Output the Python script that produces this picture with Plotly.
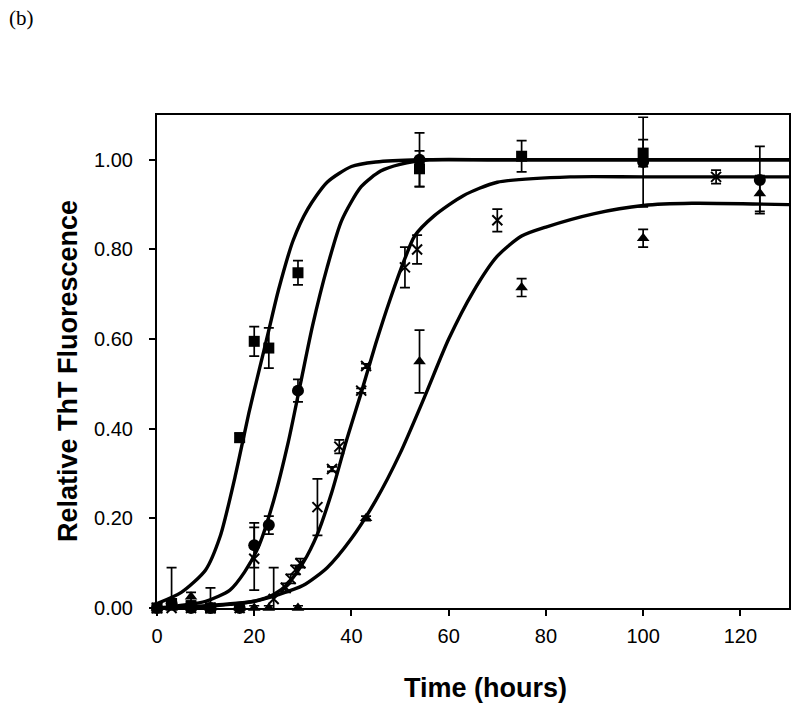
import plotly.graph_objects as go

t_sq = [0, 3, 7, 11, 17, 20, 23, 29, 54, 75, 100]
v_sq = [0.0, 0.01, 0.005, 0.0, 0.38, 0.595, 0.58, 0.748, 0.98, 1.008, 1.015]
e_sq = [0.005, 0.08, 0.01, 0.045, 0.01, 0.033, 0.045, 0.027, 0.04, 0.035, 0.03]

t_ci = [0, 3, 7, 11, 17, 20, 23, 29, 54, 100, 124]
v_ci = [0.0, 0.01, 0.0, 0.0, 0.0, 0.14, 0.185, 0.485, 1.0, 0.995, 0.955]
e_ci = [0.005, 0.01, 0.01, 0.01, 0.005, 0.05, 0.02, 0.025, 0.06, 0.10, 0.075]

t_x = [0, 3, 7, 11, 17, 20, 24, 26.5, 27.5, 28.5, 29.5, 33, 36, 37.5, 42, 43, 51, 53.5, 70, 115]
v_x = [0.0, 0.0, 0.0, 0.0, 0.0, 0.11, 0.02, 0.045, 0.065, 0.085, 0.10, 0.225, 0.31, 0.36,
       0.485, 0.54, 0.76, 0.80, 0.865, 0.962]
e_x = [0.005, 0.005, 0.005, 0.005, 0.005, 0.07, 0.07, 0.01, 0.01, 0.01, 0.01, 0.063, 0.005,
       0.015, 0.005, 0.005, 0.045, 0.032, 0.025, 0.015]

t_tr = [0, 3, 7, 11, 17, 20, 23, 29, 43, 54, 75, 100, 124]
v_tr = [0.0, 0.0, 0.025, 0.0, 0.0, 0.0, 0.0, 0.0, 0.20, 0.55, 0.715, 0.825, 0.925]
e_tr = [0.005, 0.005, 0.01, 0.005, 0.005, 0.005, 0.005, 0.005, 0.005, 0.07, 0.02, 0.02, 0.04]

# ---- fitted curves ----
fa_t = [0, 5, 10, 13, 16, 19, 21, 23, 25, 28, 31, 35, 40, 45, 54, 70, 130]
fa_v = [0.01, 0.035, 0.085, 0.16, 0.29, 0.44, 0.53, 0.62, 0.71, 0.82, 0.89, 0.95, 0.985,
        0.995, 1.0, 1.0, 1.0]

fb_t = [0, 10, 15, 18, 21, 24, 27, 29.5, 32, 35, 38, 42, 46, 50, 56, 70, 130]
fb_v = [0.0, 0.015, 0.04, 0.08, 0.14, 0.24, 0.37, 0.5, 0.63, 0.76, 0.865, 0.94, 0.975,
        0.99, 1.0, 1.0, 1.0]

fc_t = [0, 10, 15, 20, 24, 27, 30, 33, 36, 39, 42, 45, 48, 51, 53, 57, 63, 70, 85, 100, 130]
fc_v = [0.0, 0.003, 0.008, 0.015, 0.03, 0.055, 0.10, 0.165, 0.26, 0.375, 0.48, 0.59, 0.69,
        0.78, 0.83, 0.875, 0.92, 0.95, 0.962, 0.962, 0.962]

fd_t = [0, 10, 20, 25, 30, 35, 40, 45, 50, 55, 60, 65, 70, 75, 80, 90, 100, 110, 130]
fd_v = [0.0, 0.005, 0.015, 0.03, 0.05, 0.09, 0.155, 0.24, 0.345, 0.47, 0.6, 0.705, 0.785,
        0.83, 0.85, 0.88, 0.898, 0.903, 0.9]

x_ticks = [0, 20, 40, 60, 80, 100, 120]
y_ticks = [0.0, 0.2, 0.4, 0.6, 0.8, 1.0]

# plot-area geometry in pixels
W, H = 800, 711
L, R, T, B = 157, 11, 115, 103
PW, PH = W - L - R, H - T - B

fig = go.Figure()

for ft, fv in [(fa_t, fa_v), (fb_t, fb_v), (fc_t, fc_v), (fd_t, fd_v)]:
    fig.add_trace(go.Scatter(x=ft, y=fv, mode="lines",
                             line=dict(color="black", width=3.4, shape="spline",
                                       smoothing=0.7),
                             showlegend=False, hoverinfo="skip"))

def err(e):
    return dict(type="data", array=e, visible=True, color="black", thickness=1.7, width=5)

common = dict(mode="markers", showlegend=False, cliponaxis=False)
fig.add_trace(go.Scatter(x=t_sq, y=v_sq, error_y=err(e_sq),
                         marker=dict(symbol="square", size=11, color="black"), **common))
fig.add_trace(go.Scatter(x=t_ci, y=v_ci, error_y=err(e_ci),
                         marker=dict(symbol="circle", size=12, color="black"), **common))
fig.add_trace(go.Scatter(x=t_x, y=v_x, error_y=err(e_x),
                         marker=dict(symbol="x-thin", size=10,
                                     line=dict(color="black", width=2), color="black"),
                         **common))
fig.add_trace(go.Scatter(x=t_tr, y=v_tr, error_y=err(e_tr),
                         marker=dict(symbol="triangle-up", size=11, color="black"),
                         **common))

fig.update_layout(
    width=W, height=H,
    margin=dict(l=L, r=R, t=T, b=B),
    plot_bgcolor="white", paper_bgcolor="white",
    font=dict(family="Liberation Sans, Arial, sans-serif", color="black"),
    xaxis=dict(range=[0, 130], tickvals=x_ticks, ticks="outside", ticklen=6,
               tickwidth=2, tickcolor="black", showline=True, linecolor="black",
               linewidth=2, mirror=True, showgrid=False, zeroline=False,
               tickfont=dict(size=20), ticklabelstandoff=3, automargin=False),
    yaxis=dict(range=[0, 1.1], tickvals=y_ticks, tickformat=".2f", ticks="outside",
               ticklen=6, tickwidth=2, tickcolor="black", showline=True,
               linecolor="black", linewidth=2, mirror=True, showgrid=False,
               zeroline=False, tickfont=dict(size=20), ticklabelstandoff=12,
               automargin=False),
    annotations=[
        dict(text="(b)", x=(7 - L) / PW, y=1 + (T - 18) / PH, xref="paper", yref="paper",
             xanchor="left", yanchor="middle", showarrow=False,
             font=dict(family="Liberation Serif, serif", size=21)),
        dict(text="<b>Time (hours)</b>", x=(485 - L) / PW, y=-(688 - (H - B)) / PH,
             xref="paper", yref="paper", xanchor="center", yanchor="middle",
             showarrow=False, font=dict(size=27)),
        dict(text="<b>Relative ThT Fluorescence</b>", x=(68 - L) / PW,
             y=1 - (371 - T) / PH, xref="paper", yref="paper", xanchor="center",
             yanchor="middle", textangle=-90, showarrow=False, font=dict(size=27)),
    ],
)

fig.write_html("out.html",
               config={"displayModeBar": False},
               post_script="document.body.style.margin='0';"
                           "document.body.style.overflow='hidden';")
